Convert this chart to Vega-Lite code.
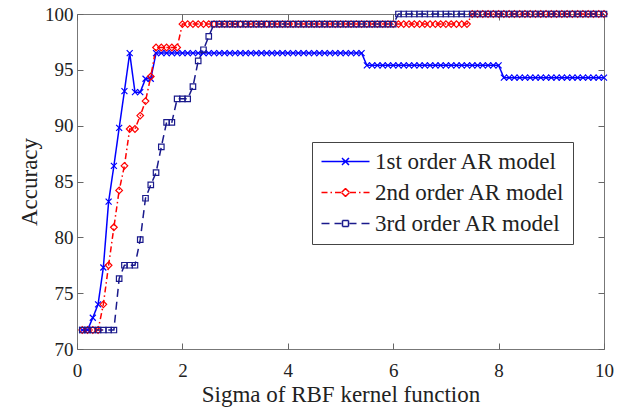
{
  "$schema": "https://vega.github.io/schema/vega-lite/v6.json",
  "width": 527,
  "height": 335,
  "autosize": {"type": "none"},
  "padding": {"left": 77, "top": 14, "right": 17, "bottom": 58},
  "background": "white",
  "data": {"values": [
    {"s":0.1,"p1":71.7,"p2":71.7,"p3":71.7},
    {"s":0.2,"p1":71.7,"p2":71.7,"p3":71.7},
    {"s":0.3,"p1":72.8,"p2":71.7,"p3":71.7},
    {"s":0.4,"p1":74.0,"p2":71.7,"p3":71.7},
    {"s":0.5,"p1":77.3,"p2":74.0,"p3":71.7},
    {"s":0.6,"p1":83.2,"p2":77.5,"p3":71.7},
    {"s":0.7,"p1":86.4,"p2":80.9,"p3":71.7},
    {"s":0.8,"p1":89.8,"p2":84.2,"p3":76.3},
    {"s":0.9,"p1":93.1,"p2":86.4,"p3":77.5},
    {"s":1.0,"p1":96.5,"p2":89.7,"p3":77.5},
    {"s":1.1,"p1":93.0,"p2":89.7,"p3":77.5},
    {"s":1.2,"p1":93.0,"p2":90.9,"p3":79.8},
    {"s":1.3,"p1":94.2,"p2":92.2,"p3":83.5},
    {"s":1.4,"p1":94.2,"p2":94.4,"p3":84.7},
    {"s":1.5,"p1":96.5,"p2":97.0,"p3":85.8},
    {"s":1.6,"p1":96.5,"p2":97.0,"p3":88.1},
    {"s":1.7,"p1":96.5,"p2":97.0,"p3":90.3},
    {"s":1.8,"p1":96.5,"p2":97.0,"p3":90.3},
    {"s":1.9,"p1":96.5,"p2":97.0,"p3":92.4},
    {"s":2.0,"p1":96.5,"p2":99.1,"p3":92.4},
    {"s":2.1,"p1":96.5,"p2":99.1,"p3":92.4},
    {"s":2.2,"p1":96.5,"p2":99.1,"p3":93.5},
    {"s":2.3,"p1":96.5,"p2":99.1,"p3":95.8},
    {"s":2.4,"p1":96.5,"p2":99.1,"p3":96.8},
    {"s":2.5,"p1":96.5,"p2":99.1,"p3":98.0},
    {"s":2.6,"p1":96.5,"p2":99.1,"p3":99.1},
    {"s":2.7,"p1":96.5,"p2":99.1,"p3":99.1},
    {"s":2.8,"p1":96.5,"p2":99.1,"p3":99.1},
    {"s":2.9,"p1":96.5,"p2":99.1,"p3":99.1},
    {"s":3.0,"p1":96.5,"p2":99.1,"p3":99.1},
    {"s":3.1,"p1":96.5,"p2":99.1,"p3":99.1},
    {"s":3.2,"p1":96.5,"p2":99.1,"p3":99.1},
    {"s":3.3,"p1":96.5,"p2":99.1,"p3":99.1},
    {"s":3.4,"p1":96.5,"p2":99.1,"p3":99.1},
    {"s":3.5,"p1":96.5,"p2":99.1,"p3":99.1},
    {"s":3.6,"p1":96.5,"p2":99.1,"p3":99.1},
    {"s":3.7,"p1":96.5,"p2":99.1,"p3":99.1},
    {"s":3.8,"p1":96.5,"p2":99.1,"p3":99.1},
    {"s":3.9,"p1":96.5,"p2":99.1,"p3":99.1},
    {"s":4.0,"p1":96.5,"p2":99.1,"p3":99.1},
    {"s":4.1,"p1":96.5,"p2":99.1,"p3":99.1},
    {"s":4.2,"p1":96.5,"p2":99.1,"p3":99.1},
    {"s":4.3,"p1":96.5,"p2":99.1,"p3":99.1},
    {"s":4.4,"p1":96.5,"p2":99.1,"p3":99.1},
    {"s":4.5,"p1":96.5,"p2":99.1,"p3":99.1},
    {"s":4.6,"p1":96.5,"p2":99.1,"p3":99.1},
    {"s":4.7,"p1":96.5,"p2":99.1,"p3":99.1},
    {"s":4.8,"p1":96.5,"p2":99.1,"p3":99.1},
    {"s":4.9,"p1":96.5,"p2":99.1,"p3":99.1},
    {"s":5.0,"p1":96.5,"p2":99.1,"p3":99.1},
    {"s":5.1,"p1":96.5,"p2":99.1,"p3":99.1},
    {"s":5.2,"p1":96.5,"p2":99.1,"p3":99.1},
    {"s":5.3,"p1":96.5,"p2":99.1,"p3":99.1},
    {"s":5.4,"p1":96.5,"p2":99.1,"p3":99.1},
    {"s":5.5,"p1":95.4,"p2":99.1,"p3":99.1},
    {"s":5.6,"p1":95.4,"p2":99.1,"p3":99.1},
    {"s":5.7,"p1":95.4,"p2":99.1,"p3":99.1},
    {"s":5.8,"p1":95.4,"p2":99.1,"p3":99.1},
    {"s":5.9,"p1":95.4,"p2":99.1,"p3":99.1},
    {"s":6.0,"p1":95.4,"p2":99.1,"p3":99.1},
    {"s":6.1,"p1":95.4,"p2":99.1,"p3":100},
    {"s":6.2,"p1":95.4,"p2":99.1,"p3":100},
    {"s":6.3,"p1":95.4,"p2":99.1,"p3":100},
    {"s":6.4,"p1":95.4,"p2":99.1,"p3":100},
    {"s":6.5,"p1":95.4,"p2":99.1,"p3":100},
    {"s":6.6,"p1":95.4,"p2":99.1,"p3":100},
    {"s":6.7,"p1":95.4,"p2":99.1,"p3":100},
    {"s":6.8,"p1":95.4,"p2":99.1,"p3":100},
    {"s":6.9,"p1":95.4,"p2":99.1,"p3":100},
    {"s":7.0,"p1":95.4,"p2":99.1,"p3":100},
    {"s":7.1,"p1":95.4,"p2":99.1,"p3":100},
    {"s":7.2,"p1":95.4,"p2":99.1,"p3":100},
    {"s":7.3,"p1":95.4,"p2":99.1,"p3":100},
    {"s":7.4,"p1":95.4,"p2":99.1,"p3":100},
    {"s":7.5,"p1":95.4,"p2":100,"p3":100},
    {"s":7.6,"p1":95.4,"p2":100,"p3":100},
    {"s":7.7,"p1":95.4,"p2":100,"p3":100},
    {"s":7.8,"p1":95.4,"p2":100,"p3":100},
    {"s":7.9,"p1":95.4,"p2":100,"p3":100},
    {"s":8.0,"p1":95.4,"p2":100,"p3":100},
    {"s":8.1,"p1":94.3,"p2":100,"p3":100},
    {"s":8.2,"p1":94.3,"p2":100,"p3":100},
    {"s":8.3,"p1":94.3,"p2":100,"p3":100},
    {"s":8.4,"p1":94.3,"p2":100,"p3":100},
    {"s":8.5,"p1":94.3,"p2":100,"p3":100},
    {"s":8.6,"p1":94.3,"p2":100,"p3":100},
    {"s":8.7,"p1":94.3,"p2":100,"p3":100},
    {"s":8.8,"p1":94.3,"p2":100,"p3":100},
    {"s":8.9,"p1":94.3,"p2":100,"p3":100},
    {"s":9.0,"p1":94.3,"p2":100,"p3":100},
    {"s":9.1,"p1":94.3,"p2":100,"p3":100},
    {"s":9.2,"p1":94.3,"p2":100,"p3":100},
    {"s":9.3,"p1":94.3,"p2":100,"p3":100},
    {"s":9.4,"p1":94.3,"p2":100,"p3":100},
    {"s":9.5,"p1":94.3,"p2":100,"p3":100},
    {"s":9.6,"p1":94.3,"p2":100,"p3":100},
    {"s":9.7,"p1":94.3,"p2":100,"p3":100},
    {"s":9.8,"p1":94.3,"p2":100,"p3":100},
    {"s":9.9,"p1":94.3,"p2":100,"p3":100},
    {"s":10.0,"p1":94.3,"p2":100,"p3":100}
  ]},
  "transform": [{"fold": ["p1", "p2", "p3"], "as": ["series", "acc"]}],
  "layer": [
    {
      "mark": {"type": "line", "strokeWidth": 1.5, "clip": false},
      "encoding": {
        "x": {"field": "s", "type": "quantitative",
              "scale": {"domain": [0, 10], "nice": false, "zero": false},
              "axis": {"orient": "bottom", "values": [0, 2, 4, 6, 8, 10], "title": "Sigma of RBF kernel function"}},
        "y": {"field": "acc", "type": "quantitative",
              "scale": {"domain": [70, 100], "nice": false, "zero": false},
              "axis": {"orient": "left", "values": [70, 75, 80, 85, 90, 95, 100], "title": "Accuracy"}},
        "color": {"field": "series", "type": "nominal",
                  "scale": {"domain": ["p1", "p2", "p3"], "range": ["#0000ff", "#ff0000", "#1a1a8c"]},
                  "legend": {
                    "orient": "none", "legendX": 235, "legendY": 128, "title": null,
                    "labelExpr": "datum.value == 'p1' ? '1st order AR model' : datum.value == 'p2' ? '2nd order AR model' : '3rd order AR model'",
                    "encode": {"symbols": {"update": {
                      "shape": {"signal": "datum.value == 'p1' ? 'M-1,0L3.8,0M1.05,-0.35L1.75,0.35M1.05,0.35L1.75,-0.35' : datum.value == 'p2' ? 'M-1,0L1.0,0M3.8,0L1.8,0M1.0,0L1.4,-0.4M1.4,-0.4L1.8,0M1.8,0L1.4,0.4M1.4,0.4L1.0,0' : 'M-1,0L1.0,0M3.8,0L1.8,0M1.1,-0.3L1.7,-0.3M1.7,-0.3L1.7,0.3M1.7,0.3L1.1,0.3M1.1,0.3L1.1,-0.3'"},
                      "fill": {"value": "transparent"}
                    }}}
                  }},
        "strokeDash": {"field": "series", "type": "nominal",
                       "scale": {"domain": ["p1", "p2", "p3"], "range": [[1, 0], [6, 3, 1.5, 3], [8, 5]]}}
      }
    },
    {
      "transform": [{"filter": "datum.series == 'p1'"}],
      "mark": {"type": "point", "filled": false, "strokeWidth": 1.2, "size": 36, "opacity": 1, "clip": false, "color": "#0000ff", "shape": "M-1,-1L1,1M-1,1L1,-1"},
      "encoding": {
        "x": {"field": "s", "type": "quantitative",
              "axis": {"orient": "top", "values": [0, 2, 4, 6, 8, 10], "labels": false, "title": null}},
        "y": {"field": "acc", "type": "quantitative",
              "axis": {"orient": "right", "values": [70, 75, 80, 85, 90, 95, 100], "labels": false, "title": null}}
      }
    },
    {
      "transform": [{"filter": "datum.series == 'p2'"}],
      "mark": {"type": "point", "filled": false, "strokeWidth": 1.2, "size": 44, "opacity": 1, "clip": false, "color": "#ff0000", "shape": "diamond"},
      "encoding": {
        "x": {"field": "s", "type": "quantitative", "axis": null},
        "y": {"field": "acc", "type": "quantitative", "axis": null}
      }
    },
    {
      "transform": [{"filter": "datum.series == 'p3'"}],
      "mark": {"type": "point", "filled": false, "strokeWidth": 1.2, "size": 30, "opacity": 1, "clip": false, "color": "#1a1a8c", "shape": "square"},
      "encoding": {
        "x": {"field": "s", "type": "quantitative", "axis": null},
        "y": {"field": "acc", "type": "quantitative", "axis": null}
      }
    }
  ],
  "resolve": {"axis": {"x": "independent", "y": "independent"}},
  "config": {
    "view": {"stroke": "#777777", "strokeWidth": 1},
    "font": "Liberation Serif",
    "axis": {
      "domain": false, "grid": false,
      "tickSize": -6, "tickColor": "#666666", "tickWidth": 1,
      "labelFont": "Liberation Serif", "labelFontSize": 19, "labelColor": "#222222",
      "labelFlush": false, "labelOverlap": false,
      "titleFont": "Liberation Serif", "titleFontSize": 23, "titleFontWeight": "normal", "titleColor": "#222222"
    },
    "axisBottom": {"labelPadding": 18, "titlePadding": 3},
    "axisLeft": {"labelPadding": 10, "titlePadding": 3},
    "legend": {
      "strokeColor": "#444444", "fillColor": "white", "padding": 8,
      "labelFont": "Liberation Serif", "labelFontSize": 23, "labelColor": "#222222", "labelLimit": 400,
      "symbolSize": 400, "symbolStrokeWidth": 1.5, "labelOffset": 32, "rowPadding": 7,
      "cornerRadius": 0
    }
  }
}
